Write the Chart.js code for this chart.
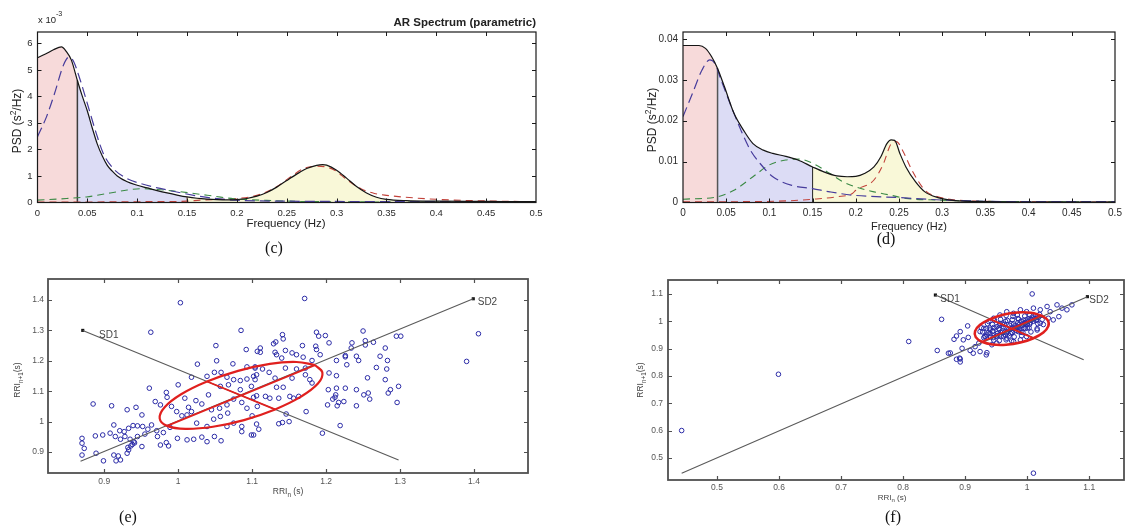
<!DOCTYPE html>
<html><head><meta charset="utf-8">
<script src="https://cdn.jsdelivr.net/npm/chart.js@4.4.1/dist/chart.umd.min.js"></script>
<style>
html,body{margin:0;padding:0;background:#fff;}
body{width:1145px;height:529px;position:relative;overflow:hidden;}
canvas{position:absolute;}
.cap{position:absolute;font-family:"Liberation Serif","Times New Roman",serif;font-size:16px;color:#111;transform:translate(-50%,-50%);white-space:nowrap;}
</style></head><body>
<canvas id="cc" width="560" height="240" style="left:0;top:0"></canvas>
<canvas id="cd" width="565" height="240" style="left:580px;top:0"></canvas>
<canvas id="ce" width="560" height="250" style="left:0;top:260px"></canvas>
<canvas id="cf" width="545" height="250" style="left:600px;top:260px"></canvas>
<div class="cap" style="left:274px;top:248px">(c)</div>
<div class="cap" style="left:886px;top:239px">(d)</div>
<div class="cap" style="left:128px;top:517px">(e)</div>
<div class="cap" style="left:893px;top:517px">(f)</div>
<script>
// ---------- (c) AR spectrum, PSD in units of 1e-3 s^2/Hz ----------
const freqC  = [0,0.008,0.016,0.024,0.029,0.034,0.04,0.045,0.05,0.055,0.06,0.065,0.07,0.075,0.08,0.09,0.1,0.11,0.12,0.13,0.14,0.15,0.16,0.17,0.18,0.19,0.2,0.21,0.22,0.23,0.24,0.25,0.26,0.27,0.28,0.286,0.29,0.3,0.31,0.32,0.33,0.34,0.35,0.37,0.4,0.45,0.5];
const totalC = [5.46,5.6,5.76,5.87,5.69,5.37,4.6,4.0,3.45,2.8,2.2,1.75,1.4,1.18,1.0,0.78,0.65,0.55,0.45,0.36,0.28,0.21,0.16,0.13,0.11,0.1,0.11,0.15,0.24,0.38,0.58,0.83,1.07,1.28,1.4,1.43,1.41,1.22,0.92,0.6,0.36,0.2,0.12,0.07,0.05,0.04,0.03];
const vlfFreqC = [0,0.009,0.017,0.026,0.031,0.035,0.043,0.051,0.059,0.066,0.076,0.09,0.103,0.123,0.147,0.17,0.197,0.25,0.3,0.35,0.4,0.45,0.5];
const vlfC     = [2.48,3.23,4.1,5.18,5.47,5.4,4.6,3.6,2.6,1.85,1.28,0.9,0.72,0.53,0.34,0.19,0.09,0.05,0.04,0.03,0.03,0.02,0.02];
const lfFreqC  = [0,0.029,0.049,0.073,0.09,0.103,0.116,0.137,0.157,0.177,0.197,0.23,0.264,0.3,0.35,0.4,0.5];
const lfC      = [0.09,0.15,0.21,0.36,0.47,0.52,0.5,0.43,0.34,0.24,0.14,0.08,0.04,0.03,0.02,0.02,0.02];
const hfFreqC  = [0,0.05,0.1,0.15,0.163,0.197,0.217,0.237,0.254,0.267,0.281,0.288,0.298,0.311,0.324,0.338,0.35,0.4,0.45,0.5];
const hfC      = [0.02,0.02,0.03,0.05,0.09,0.14,0.24,0.53,0.97,1.28,1.37,1.35,1.22,0.84,0.53,0.34,0.27,0.12,0.06,0.03];

// ---------- (d) AR spectrum, PSD in s^2/Hz ----------
const freqD  = [0,0.01,0.0185,0.026,0.033,0.04,0.048,0.059,0.07,0.081,0.093,0.104,0.119,0.133,0.15,0.163,0.178,0.19,0.2,0.21,0.221,0.229,0.236,0.241,0.245,0.251,0.258,0.269,0.28,0.295,0.313,0.35,0.4,0.45,0.5];
const totalD = [0.0384,0.0384,0.0384,0.0377,0.0357,0.0328,0.0283,0.0218,0.0177,0.0144,0.0128,0.012,0.0113,0.0104,0.0087,0.0075,0.0065,0.0063,0.0064,0.0071,0.0087,0.0112,0.0144,0.0153,0.0152,0.012,0.0087,0.0051,0.0026,0.0012,0.0005,0.0002,0.0001,0.0001,0.0001];
const vlfFreqD = [0,0.011,0.022,0.031,0.037,0.044,0.056,0.067,0.078,0.089,0.104,0.126,0.15,0.17,0.196,0.25,0.3,0.35,0.4,0.5];
const vlfD     = [0.021,0.0267,0.0324,0.0349,0.034,0.030,0.0234,0.0177,0.0128,0.0096,0.0063,0.0042,0.0034,0.0026,0.0018,0.0012,0.0006,0.0003,0.0002,0.0002];
const lfFreqD  = [0,0.04,0.059,0.081,0.1,0.119,0.135,0.15,0.17,0.185,0.2,0.221,0.24,0.258,0.295,0.35,0.4,0.5];
const lfD      = [0.0008,0.0014,0.003,0.0063,0.0092,0.0104,0.0106,0.0096,0.0071,0.0051,0.0038,0.0026,0.0018,0.001,0.0006,0.0003,0.0002,0.0002];
const hfFreqD  = [0,0.06,0.12,0.15,0.178,0.196,0.2,0.221,0.232,0.241,0.247,0.254,0.265,0.28,0.295,0.35,0.4,0.5];
const hfD      = [0.0002,0.0002,0.0004,0.0008,0.0014,0.0022,0.003,0.0055,0.0095,0.0144,0.0149,0.0128,0.0079,0.003,0.0014,0.0003,0.0002,0.0001];

const bandEdges = [0, 0.04, 0.15, 0.4];   // VLF | LF | HF
const freqTicks = [0,0.05,0.1,0.15,0.2,0.25,0.3,0.35,0.4,0.45,0.5];
const freqTickLabels = ["0","0.05","0.1","0.15","0.2","0.25","0.3","0.35","0.4","0.45","0.5"];
const psdTicksC = [0,1,2,3,4,5,6];
const psdTickLabelsC = ["0","1","2","3","4","5","6"];
const psdTicksD = [0,0.01,0.02,0.03,0.04];
const psdTickLabelsD = ["0","0.01","0.02","0.03","0.04"];

// ---------- (e) Poincare plot ----------
const rrNE = [1.003,0.963,1.085,1.051,1.092,1.107,1.052,1.074,1.026,1.018,1.039,1.049,1.058,1.066,1.075,1.084,1.093,1.102,1.093,1.104,
 0.961,0.984,0.985,1.000,0.885,0.910,0.931,0.943,0.951,0.969,0.976,1.009,1.014,1.024,1.032,1.041,1.045,1.056,1.066,1.075,
 1.086,1.093,1.102,1.107,0.991,0.998,1.005,1.012,1.018,1.025,1.039,1.048,1.057,1.067,1.075,1.086,1.100,1.106,0.913,0.921,
 0.927,0.933,0.939,0.945,0.952,0.959,0.964,0.971,0.980,0.989,0.870,0.870,0.873,0.888,0.898,0.908,0.915,0.922,0.928,0.935,
 0.940,0.936,0.933,0.945,0.955,0.972,0.976,0.984,0.987,0.999,1.012,1.021,1.032,1.039,1.049,1.058,0.870,0.889,0.899,0.913,
 0.916,0.922,0.919,0.931,0.951,1.084,1.068,1.057,1.099,1.086,1.099,1.066,0.938,0.941,0.932,
 1.171,1.141,1.142,1.132,1.129,1.111,1.111,1.187,1.190,1.199,1.204,1.168,1.186,1.187,1.250,1.253,1.264,1.235,1.234,1.253,
 1.295,1.301,1.280,1.131,1.145,1.154,1.160,1.169,1.192,1.181,1.140,1.133,1.214,1.226,1.226,1.241,1.244,1.273,1.283,1.228,
 1.268,1.282,1.256,1.280,1.204,1.214,1.203,1.214,1.226,1.241,1.213,1.212,1.209,1.217,1.224,1.202,1.215,1.241,1.251,1.257,
 1.259,1.287,1.284,1.298,1.296,1.173,1.146,1.136,1.141,1.150,1.219,1.195,1.109,1.102,1.151,1.156,1.163,1.136,1.124,1.106,
 1.118,1.133,1.142,1.131,1.123,1.145,1.160,1.172,1.178,1.181,1.104,1.106,1.114,1.104,1.172,1.154,1.406,1.390];
const rrN1E = [1.391,1.294,1.300,1.250,1.237,1.231,1.200,1.190,1.189,1.146,1.149,1.162,1.162,1.146,1.138,1.135,1.140,1.149,1.180,1.180,
 1.110,1.096,1.080,1.121,1.058,1.052,1.039,1.047,1.022,1.066,1.055,1.077,1.047,1.069,1.058,1.088,1.039,1.044,1.055,1.074,
 1.063,1.044,1.080,1.050,1.050,1.033,1.019,1.022,1.033,0.995,0.984,1.008,1.017,1.028,0.995,0.984,1.019,0.992,0.989,0.970,
 0.967,0.978,0.987,0.986,0.984,0.975,0.989,0.970,0.964,0.981,0.945,0.929,0.912,0.953,0.956,0.962,0.951,0.942,0.951,0.942,
 0.934,0.920,0.907,0.951,0.959,0.951,0.923,0.931,0.920,0.945,0.940,0.942,0.949,0.934,0.951,0.937,0.890,0.896,0.871,0.890,
 0.871,0.874,0.887,0.896,0.918,1.105,1.121,1.116,1.116,0.967,0.956,0.984,0.925,0.930,0.915,
 1.405,1.286,1.272,1.262,1.256,1.242,1.228,1.294,1.281,1.283,1.259,1.250,1.248,1.237,1.298,1.266,1.261,1.259,1.242,1.252,
 1.281,1.281,1.242,1.228,1.234,1.226,1.220,1.212,1.220,1.201,1.209,1.220,1.201,1.217,1.213,1.215,1.201,1.215,1.201,1.187,
 1.178,1.173,1.144,1.138,1.160,1.151,1.105,1.110,1.110,1.105,1.088,1.080,1.074,1.063,1.066,1.055,1.052,1.052,1.088,1.094,
 1.074,1.105,1.094,1.116,1.063,1.033,1.025,0.993,0.997,1.000,0.987,0.962,0.975,0.956,1.083,1.077,1.083,1.077,1.077,1.085,
 1.083,1.113,1.113,1.143,1.162,1.176,1.173,1.154,1.138,1.127,1.138,1.154,1.173,1.176,1.176,1.143,1.289,1.198];
const sdLineE = { sd1: [[0.871,1.300],[1.298,0.874]], sd2: [[0.868,0.870],[1.399,1.404]] };
const ellipseXE = [1.185,1.160,1.124,1.081,1.039,1.004,0.982,0.975,0.985,1.010,1.047,1.089,1.131,1.166,1.189,1.195,1.185];
const ellipseYE = [1.186,1.196,1.190,1.167,1.132,1.090,1.048,1.011,0.986,0.976,0.983,1.005,1.040,1.082,1.125,1.161,1.186];
const axesE = { major: [[0.985,0.986],[1.185,1.186]], minor: [[1.039,1.132],[1.131,1.040]] };
const rrTicksE = [0.9,1.0,1.1,1.2,1.3,1.4];
const rrTickLabelsE = ["0.9","1","1.1","1.2","1.3","1.4"];

// ---------- (f) Poincare plot ----------
const rrNF = [0.443,0.599,0.809,1.010,0.862,1.008,0.904,0.892,0.886,0.882,0.897,0.905,0.855,0.873,0.886,0.891,0.895,0.908,0.916,0.922,
 0.913,0.924,0.934,0.935,0.943,0.951,0.924,0.930,0.938,0.946,0.956,0.967,0.978,0.989,0.999,1.010,1.021,1.032,1.037,1.048,
 1.056,1.064,1.072,1.051,1.042,1.034,1.021,1.016,0.999,0.989,0.978,0.967,0.956,0.940,0.932,0.951,0.876,0.892,0.892,
 0.94,0.945,0.95,0.955,0.96,0.962,0.965,0.97,0.972,0.975,0.978,0.98,0.983,0.985,0.988,0.99,0.993,0.995,0.998,1.0,
 1.003,1.005,1.008,1.01,1.013,1.015,0.935,0.93,0.945,0.952,0.958,0.967,0.973,0.977,0.982,0.987,0.992,0.997,1.002,1.007,
 1.012,1.018,0.96,0.965,0.955,0.99,1.0,1.02,0.94,0.985,
 0.966,0.977,0.984,0.996,1.004,1.016,0.947,0.957,0.968,0.976,0.986,0.994,1.006,1.014,1.024,0.936,0.944,0.956,0.963,0.974,
 0.987,0.996,1.004,1.017,1.026,0.926,0.934,0.946,0.954,0.966,0.974,0.984,0.997,1.003,1.016,0.928,0.937,0.944,0.957,0.964,
 0.976,0.986,0.993,1.006,0.932,0.941,0.951,0.962,0.971,0.979,0.991,0.946,0.955,0.966,0.975];
const rrN1F = [0.600,0.806,0.926,0.444,1.007,1.100,0.983,0.962,0.946,0.934,0.932,0.941,0.893,0.883,0.861,0.865,0.901,0.893,0.907,0.920,
 0.883,0.889,0.877,0.885,0.914,0.920,0.962,0.974,0.999,1.011,1.023,1.035,1.029,1.042,1.035,1.048,1.042,1.054,1.035,1.060,
 1.048,1.042,1.060,1.017,1.005,1.011,0.993,0.968,0.944,0.932,0.926,0.938,0.950,0.968,0.944,0.980,0.884,0.851,0.862,
 0.955,0.965,0.945,0.97,0.96,0.98,0.95,0.97,0.985,0.96,0.99,0.975,0.965,0.995,0.98,1.0,0.99,0.975,1.005,0.99,
 1.01,0.995,1.015,1.0,1.02,1.005,0.95,0.94,0.94,0.955,0.945,0.96,0.955,0.975,0.985,0.97,0.985,0.995,1.0,1.005,
 1.01,1.015,0.99,1.0,0.985,0.96,0.975,1.025,0.975,1.01,
 1.021,1.018,1.023,1.019,1.022,1.017,1.004,1.007,1.003,1.006,1.008,1.004,1.007,1.003,1.006,0.991,0.988,0.992,0.989,0.991,
 0.988,0.992,0.989,0.991,0.988,0.976,0.973,0.977,0.974,0.976,0.973,0.977,0.974,0.976,0.973,0.961,0.958,0.962,0.959,0.961,
 0.958,0.962,0.959,0.961,0.946,0.943,0.947,0.944,0.946,0.943,0.947,0.931,0.929,0.932,0.928];
const sdLineF = { sd1: [[0.852,1.096],[1.091,0.859]], sd2: [[0.443,0.444],[1.097,1.090]] };
const ellipseXF = [1.023,1.006,0.984,0.961,0.940,0.924,0.916,0.917,0.927,0.944,0.966,0.989,1.010,1.026,1.034,1.033,1.023];
const ellipseYF = [1.021,1.031,1.032,1.024,1.008,0.987,0.964,0.942,0.925,0.915,0.914,0.922,0.938,0.959,0.982,1.004,1.021];
const axesF = { major: [[0.927,0.925],[1.023,1.021]], minor: [[0.940,1.008],[1.010,0.938]] };
const rrTicksF = [0.5,0.6,0.7,0.8,0.9,1.0,1.1];
const rrTickLabelsF = ["0.5","0.6","0.7","0.8","0.9","1","1.1"];

// ---------- helpers ----------
const FAM = '"Liberation Sans", Arial, sans-serif';
Chart.defaults.font.family = FAM;
function xy(xs, ys) { return xs.map((x, i) => ({x: x, y: ys[i]})); }
function band(xs, ys, lo, hi) { const o = []; xs.forEach((x, i) => { if (x >= lo - 1e-9 && x <= hi + 1e-9) o.push({x: x, y: ys[i]}); }); return o; }
function valAt(xs, ys, x) { return ys[xs.indexOf(x)]; }
function segs(list) { const o = []; list.forEach((s, k) => { if (k) o.push({x: s[0][0], y: null}); s.forEach(p => o.push({x: p[0], y: p[1]})); }); return o; }

function scaleCfg(axis, min, max, values, labels, size, fontSize, color, pad) {
  return {
    type: 'linear', position: axis === 'x' ? 'bottom' : 'left', min: min, max: max,
    grid: {display: false, drawTicks: false}, border: {display: false},
    afterBuildTicks: s => { s.ticks = values.map(v => ({value: v})); },
    afterFit: s => { if (axis === 'x') s.height = size; else s.width = size;
      s.paddingLeft = 0; s.paddingRight = 0; s.paddingTop = 0; s.paddingBottom = 0; },
    ticks: {font: {size: fontSize, family: FAM}, color: color, padding: pad, autoSkip: false,
      maxRotation: 0, minRotation: 0, callback: (v, i) => labels[i]}
  };
}

const framePlugin = {
  id: 'frame',
  afterDatasetsDraw(chart, args, o) {
    const ctx = chart.ctx, a = chart.chartArea, sx = chart.scales.x, sy = chart.scales.y;
    ctx.save();
    ctx.strokeStyle = o.color; ctx.lineWidth = o.tickWidth; ctx.setLineDash([]);
    ctx.beginPath();
    sx.ticks.forEach(t => { const p = Math.round(sx.getPixelForValue(t.value)) + 0.5;
      if (p > a.left + 2 && p < a.right - 2) { ctx.moveTo(p, a.bottom); ctx.lineTo(p, a.bottom - o.len); ctx.moveTo(p, a.top); ctx.lineTo(p, a.top + o.len); } });
    sy.ticks.forEach(t => { const p = Math.round(sy.getPixelForValue(t.value)) + 0.5;
      if (p > a.top + 2 && p < a.bottom - 2) { ctx.moveTo(a.left, p); ctx.lineTo(a.left + o.len, p); ctx.moveTo(a.right, p); ctx.lineTo(a.right - o.len, p); } });
    ctx.stroke();
    ctx.lineWidth = o.width;
    ctx.strokeRect(a.left, a.top, a.right - a.left, a.bottom - a.top);
    ctx.restore();
  }
};

const notesPlugin = {
  id: 'notes',
  afterDraw(chart, args, o) {
    const ctx = chart.ctx;
    (o.items || []).forEach(it => {
      let x = it.x, y = it.y;
      if (it.data) { x = chart.scales.x.getPixelForValue(it.x); y = chart.scales.y.getPixelForValue(it.y); }
      ctx.save();
      ctx.translate(x, y);
      if (it.rot) ctx.rotate(it.rot * Math.PI / 180);
      ctx.fillStyle = it.color || '#222';
      ctx.textBaseline = 'middle'; ctx.textAlign = 'left';
      const wt = it.weight || 'normal';
      const parts = it.parts.map(p => typeof p === 'string' ? {t: p, s: 1, dy: 0} : p);
      let total = 0;
      parts.forEach(p => { ctx.font = wt + ' ' + (it.size * (p.s || 1)) + 'px ' + FAM; p.w = ctx.measureText(p.t).width; total += p.w; });
      let cx = it.align === 'left' ? 0 : it.align === 'right' ? -total : -total / 2;
      parts.forEach(p => { ctx.font = wt + ' ' + (it.size * (p.s || 1)) + 'px ' + FAM; ctx.fillText(p.t, cx, (p.dy || 0) * it.size); cx += p.w; });
      ctx.restore();
    });
  }
};

const baseOpts = {responsive: false, animation: false, devicePixelRatio: 1, events: []};

// ---------- PSD charts ----------
function psdChart(id, F, T, V, VF, L, LF, H, HF, yMax, yTicks, yLabels, geom, notes, vlineColors) {
  const fills = [
    {data: band(F, T, bandEdges[0], bandEdges[1]), backgroundColor: '#f7dada'},
    {data: band(F, T, bandEdges[1], bandEdges[2]), backgroundColor: '#dcdcf5'},
    {data: band(F, T, bandEdges[2], bandEdges[3]), backgroundColor: '#f9f8d8'}
  ].map(d => Object.assign(d, {fill: 'origin', borderWidth: 0, pointRadius: 0, cubicInterpolationMode: 'monotone'}));
  const ds = [
    {data: xy(F, T), borderColor: '#151515', borderWidth: 1.2, pointRadius: 0, cubicInterpolationMode: 'monotone', fill: false},
    {data: xy(VF, V), borderColor: '#473c9c', borderWidth: 1.2, borderDash: [10, 5], pointRadius: 0, cubicInterpolationMode: 'monotone', fill: false},
    {data: xy(LF, L), borderColor: '#3b8a45', borderWidth: 1.1, borderDash: [7, 5], pointRadius: 0, cubicInterpolationMode: 'monotone', fill: false},
    {data: xy(HF, H), borderColor: '#c2423a', borderWidth: 1.1, borderDash: [7, 5], pointRadius: 0, cubicInterpolationMode: 'monotone', fill: false},
    {data: [{x: bandEdges[1], y: 0}, {x: bandEdges[1], y: valAt(F, T, bandEdges[1])}], borderColor: vlineColors[0], borderWidth: 1.5, pointRadius: 0, fill: false},
    {data: [{x: bandEdges[2], y: 0}, {x: bandEdges[2], y: valAt(F, T, bandEdges[2])}], borderColor: vlineColors[1], borderWidth: 1, pointRadius: 0, fill: false}
  ].concat(fills);
  return new Chart(document.getElementById(id), {
    type: 'line',
    data: {datasets: ds},
    options: Object.assign({}, baseOpts, {
      layout: {padding: {left: 0, top: geom.top, right: geom.right, bottom: 0}},
      plugins: {legend: {display: false}, tooltip: {enabled: false}, filler: {drawTime: 'beforeDatasetsDraw'},
        frame: {color: '#1a1a1a', width: 1.2, tickWidth: 1, len: 4}, notes: {items: notes}},
      scales: {
        x: scaleCfg('x', 0, 0.5, freqTicks, freqTickLabels, geom.xh, geom.tf, '#2a2a2a', 5),
        y: scaleCfg('y', 0, yMax, yTicks, yLabels, geom.yw, geom.tf, '#2a2a2a', 5)
      }
    }),
    plugins: [framePlugin, notesPlugin]
  });
}

psdChart('cc', freqC, totalC, vlfC, vlfFreqC, lfC, lfFreqC, hfC, hfFreqC, 6.43, psdTicksC, psdTickLabelsC,
  {top: 32, right: 24, xh: 37.5, yw: 37.5, tf: 9.5},
  [
    {parts: ['PSD (s', {t: '2', s: 0.7, dy: -0.35}, '/Hz)'], x: 18, y: 121, rot: -90, size: 12},
    {parts: ['Frequency (Hz)'], x: 286, y: 224, size: 11.5},
    {parts: ['x 10', {t: '-3', s: 0.75, dy: -0.6}], x: 38, y: 20, size: 9.5, align: 'left'},
    {parts: ['AR Spectrum (parametric)'], x: 536, y: 23, size: 11.5, weight: 'bold', align: 'right'}
  ], ['#3c3c3c', '#7a4a30']);

psdChart('cd', freqD, totalD, vlfD, vlfFreqD, lfD, lfFreqD, hfD, hfFreqD, 0.0417, psdTicksD, psdTickLabelsD,
  {top: 32, right: 30, xh: 37.5, yw: 103, tf: 10},
  [
    {parts: ['PSD (s', {t: '2', s: 0.7, dy: -0.35}, '/Hz)'], x: 73, y: 120, rot: -90, size: 12},
    {parts: ['Frequency (Hz)'], x: 329, y: 227, size: 11}
  ], ['#555555', '#222222']);

// ---------- Poincare charts ----------
function poincare(id, X, Y, sd, ex, ey, ax, xr, yr, ticks, labels, geom, notes) {
  const ds = [
    {data: xy(ex, ey), borderColor: '#e0201e', borderWidth: geom.ew, tension: 0.4, pointRadius: 0, fill: false},
    {data: segs([ax.major, ax.minor]), borderColor: '#e0201e', borderWidth: 1.8, pointRadius: 0, fill: false},
    {data: segs([sd.sd1, sd.sd2]), borderColor: '#5a5a5a', borderWidth: 1.1, pointRadius: 0, fill: false},
    {data: [{x: sd.sd1[0][0], y: sd.sd1[0][1]}, {x: sd.sd2[1][0], y: sd.sd2[1][1]}], showLine: false,
      pointStyle: 'rect', pointRadius: 2.2, pointBackgroundColor: '#111', pointBorderColor: '#111', pointBorderWidth: 0},
    {data: xy(X, Y), showLine: false, pointStyle: 'circle', pointRadius: 2.3, pointBorderWidth: 1,
      pointBorderColor: '#2a2aa6', pointBackgroundColor: 'rgba(0,0,0,0)'}
  ];
  return new Chart(document.getElementById(id), {
    type: 'line',
    data: {datasets: ds},
    options: Object.assign({}, baseOpts, {
      layout: {padding: {left: 0, top: geom.top, right: geom.right, bottom: 0}},
      plugins: {legend: {display: false}, tooltip: {enabled: false},
        frame: {color: '#505050', width: 1.8, tickWidth: 1.2, len: 4}, notes: {items: notes}},
      scales: {
        x: scaleCfg('x', xr[0], xr[1], ticks, labels, geom.xh, 8.5, '#555', geom.xp),
        y: scaleCfg('y', yr[0], yr[1], ticks, labels, geom.yw, 8.5, '#555', geom.yp)
      }
    }),
    plugins: [framePlugin, notesPlugin]
  });
}

poincare('ce', rrNE, rrN1E, sdLineE, ellipseXE, ellipseYE, axesE, [0.824, 1.473], [0.831, 1.469], rrTicksE, rrTickLabelsE,
  {top: 19, right: 32, xh: 37, yw: 48, xp: 4, yp: 4, ew: 2.2},
  [
    {parts: ['RRI', {t: 'n', s: 0.75, dy: 0.35}, ' (s)'], x: 288, y: 232, size: 8.5, color: '#444'},
    {parts: ['RRI', {t: 'n+1', s: 0.75, dy: 0.35}, '(s)'], x: 18, y: 120, rot: -90, size: 8.5, color: '#444'},
    {parts: ['SD1'], x: 0.893, y: 1.283, data: true, align: 'left', size: 10, color: '#444'},
    {parts: ['SD2'], x: 1.405, y: 1.392, data: true, align: 'left', size: 10, color: '#444'}
  ]);

poincare('cf', rrNF, rrN1F, sdLineF, ellipseXF, ellipseYF, axesF, [0.421, 1.156], [0.419, 1.151], rrTicksF, rrTickLabelsF,
  {top: 20, right: 21, xh: 30, yw: 68, xp: 3, yp: 5, ew: 2.6},
  [
    {parts: ['RRI', {t: 'n', s: 0.75, dy: 0.35}, ' (s)'], x: 292, y: 238, size: 8, color: '#444'},
    {parts: ['RRI', {t: 'n+1', s: 0.75, dy: 0.35}, '(s)'], x: 41, y: 120, rot: -90, size: 8.5, color: '#444'},
    {parts: ['SD1'], x: 0.860, y: 1.079, data: true, align: 'left', size: 10, color: '#444'},
    {parts: ['SD2'], x: 1.100, y: 1.078, data: true, align: 'left', size: 10, color: '#444'}
  ]);
</script>
</body></html>
